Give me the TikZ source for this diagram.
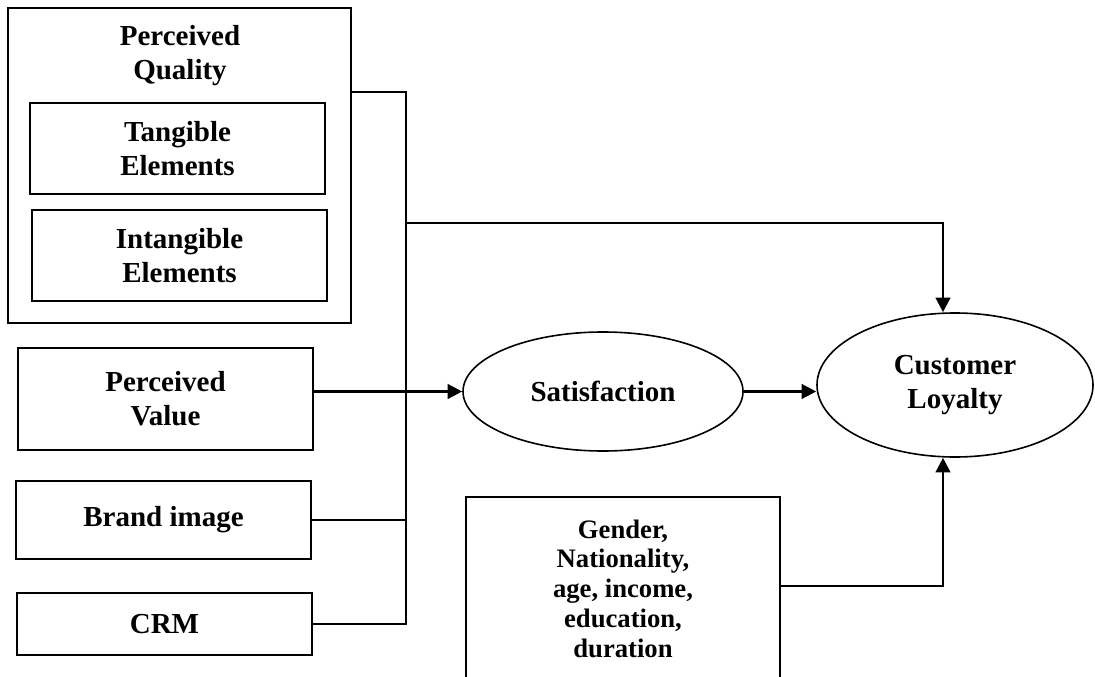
\documentclass[tikz,border=0pt]{standalone}
\usepackage{fontspec}
\setmainfont{Liberation Serif}
\usetikzlibrary{shapes.geometric,arrows.meta}
\begin{document}
\begin{tikzpicture}[x=0.75pt,y=-0.75pt,
  bigfont/.style={font=\bfseries\fontsize{21.75}{25.5}\selectfont},
  box/.style={draw,line width=1.5pt,rectangle,inner sep=0pt,align=center,bigfont},
  oval/.style={draw,line width=1.2pt,ellipse,inner sep=0pt,align=center,bigfont},
  lbl/.style={align=center,inner sep=0pt,bigfont},
  link/.style={line width=1.5pt},
  arr/.style={line width=1.8pt,-{Triangle[length=11pt,width=11pt]}}]
\useasboundingbox (0,0) rectangle (1095,677);
% left column
\node[box,minimum width=257.25pt,minimum height=236.25pt] (pq) at (179.5,165.5) {};
\node[lbl] (pqtext) at (180,56) {Perceived\\Quality};
\node[box,minimum width=221.25pt,minimum height=68.25pt] (tang) at (177.5,148.5) {Tangible\\Elements};
\node[box,minimum width=221.25pt,minimum height=68.25pt] (intang) at (179.5,255.5) {Intangible\\Elements};
\node[box,minimum width=221.25pt,minimum height=76.5pt] (pv) at (165.5,399) {Perceived\\Value};
\node[box,minimum width=221.25pt,minimum height=58.5pt] (brand) at (163.5,520) {Brand image};
\node[box,minimum width=221.25pt,minimum height=46.5pt] (crm) at (164.5,624) {CRM};
% ellipses
\node[oval,minimum width=210pt,minimum height=89.25pt] (sat) at (603,391.5) {Satisfaction};
\node[oval,minimum width=207pt,minimum height=108pt] (cl) at (955,385) {Customer\\Loyalty};
% demographics
\node[box,minimum width=235.5pt,minimum height=137.25pt,font=\bfseries\fontsize{20}{22.3}\selectfont] (demo) at (623,588.5) {Gender,\\Nationality,\\age, income,\\education,\\duration};
% junctions
\coordinate (jq) at (406,92);
\coordinate (jtop) at (406,223);
\coordinate (ttop) at (943,223);
\coordinate (tbot) at (943,586);
% bus
\draw[link] (pq.east |- jq) -- (jq) -- (jq |- crm.east) -- (crm.east);
\draw[link] (brand.east) -- (jq |- brand.east);
% arrows
\draw[arr] (jtop) -- (ttop) -- (ttop |- cl.north);
\draw[arr] (pv.east |- sat.west) -- (sat.west);
\draw[arr] (sat.east) -- (cl.west |- sat.east);
\draw[arr] (demo.east |- tbot) -- (tbot) -- (tbot |- cl.south);
\end{tikzpicture}
\end{document}
